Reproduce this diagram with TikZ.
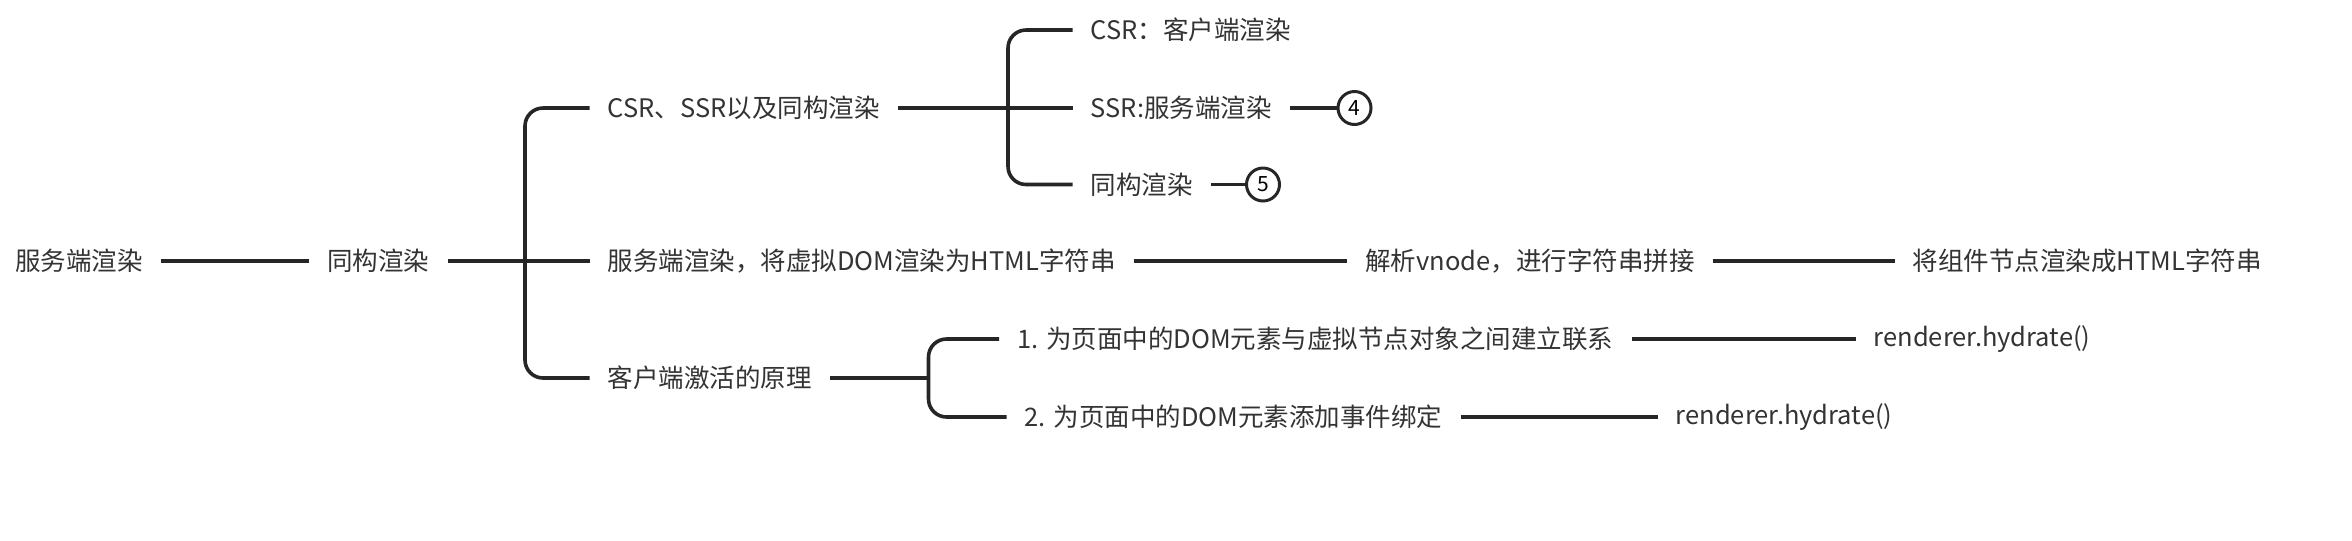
\documentclass[tikz,border=0pt]{standalone}
\usepackage{fontspec}
\setmainfont{Noto Sans CJK SC}
\begin{document}
\begin{tikzpicture}[x=1pt,y=-1pt,
  t/.style={anchor=west,inner sep=0pt,font=\fontsize{17}{20}\selectfont,text=black!80},
  ln/.style={line width=2.4pt,draw=black!85,shorten <=12pt,shorten >=12pt},
  br/.style={line width=2.4pt,draw=black!85,rounded corners=12pt},
  num/.style={circle,draw=black!85,line width=2pt,minimum size=22pt,inner sep=0pt,font=\fontsize{14}{14}\selectfont}]
\useasboundingbox (0,0) rectangle (1568,360);
\node[t] (root) at (10,174) {服务端渲染};
\node[t] (iso) at (218,174) {同构渲染};
\node[t] (a) at (405,72) {CSR、SSR以及同构渲染};
\node[t] (b) at (405,174) {服务端渲染，将虚拟DOM渲染为HTML字符串};
\node[t] (c) at (405,252) {客户端激活的原理};
\node[t] (a1) at (727,20) {CSR：客户端渲染};
\node[t] (a2) at (727,72) {SSR:服务端渲染};
\node[t] (a3) at (727,123) {同构渲染};
\node[num] (n4) at (903,72) {4};
\node[num] (n5) at (842,123) {5};
\node[t] (b1) at (910,174) {解析vnode，进行字符串拼接};
\node[t] (b2) at (1275,174) {将组件节点渲染成HTML字符串};
\node[t] (c1) at (678,226) {1. 为页面中的DOM元素与虚拟节点对象之间建立联系};
\node[t] (c2) at (683,278) {2. 为页面中的DOM元素添加事件绑定};
\node[t] (c1r) at (1249,226) {renderer.hydrate()};
\node[t] (c2r) at (1117,278) {renderer.hydrate()};
\coordinate (bx1) at (350,174);
\coordinate (bx2) at (672,72);
\coordinate (bx3) at (619,252);
\draw[ln] (root) -- (iso);
\draw[ln] (iso.east) -- (b.west);
\draw[br] ([xshift=-12pt]a.west) -| (bx1) |- ([xshift=-12pt]c.west);
\draw[ln] (a.east) -- (a2.west);
\draw[br] ([xshift=-12pt]a1.west) -| (bx2) |- ([xshift=-12pt]a3.west);
\draw[line width=2.4pt,draw=black!85] ([xshift=12pt]a2.east) -- (n4.west);
\draw[line width=2.4pt,draw=black!85] ([xshift=12pt]a3.east) -- (n5.west);
\draw[ln] (b.east) -- (b1.west);
\draw[ln] (b1.east) -- (b2.west);
\draw[line width=2.4pt,draw=black!85] ([xshift=12pt]c.east) -- (bx3);
\draw[br] ([xshift=-12pt]c1.west) -| (bx3) |- ([xshift=-12pt]c2.west);
\draw[ln] (c1.east) -- (c1r.west);
\draw[ln] (c2.east) -- (c2r.west);
\end{tikzpicture}
\end{document}
